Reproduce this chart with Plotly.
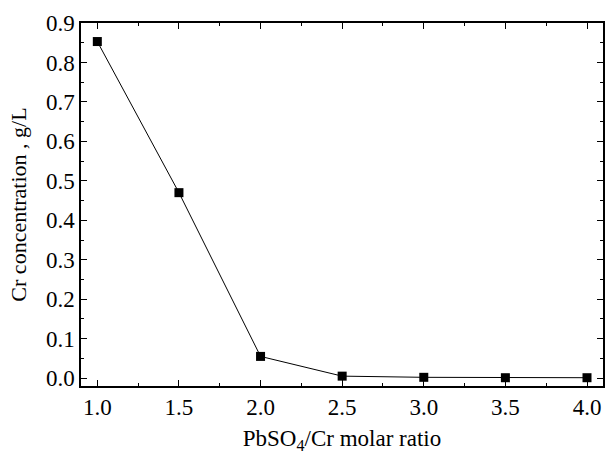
import plotly.graph_objects as go

ratio = [1.0, 1.5, 2.0, 2.5, 3.0, 3.5, 4.0]
cr_conc = [0.853, 0.470, 0.055, 0.005, 0.002, 0.001, 0.001]

font = "Liberation Serif"
fig = go.Figure(go.Scatter(
    x=ratio, y=cr_conc, mode="lines+markers",
    line=dict(color="black", width=1),
    marker=dict(symbol="square", size=9, color="black"),
    cliponaxis=False,
))

axis_common = dict(
    showline=True, linecolor="black", linewidth=1.5, mirror="ticks",
    ticks="inside", ticklen=6, tickwidth=1, tickcolor="black",
    showgrid=False, zeroline=False,
    tickfont=dict(family=font, size=23, color="black"),
)
fig.update_xaxes(
    range=[0.9, 4.098], tickmode="array",
    tickvals=[1.0, 1.5, 2.0, 2.5, 3.0, 3.5, 4.0],
    ticktext=["1.0", "1.5", "2.0", "2.5", "3.0", "3.5", "4.0"],
    minor=dict(ticks="inside", ticklen=3, dtick=0.25, tickcolor="black"),
    title=dict(text="PbSO<sub>4</sub>/Cr molar ratio", font=dict(family=font, size=23, color="black"), standoff=12),
    **axis_common,
)
fig.update_yaxes(
    range=[-0.02, 0.9], tickmode="array",
    tickvals=[0.0, 0.1, 0.2, 0.3, 0.4, 0.5, 0.6, 0.7, 0.8, 0.9],
    ticktext=["0.0", "0.1", "0.2", "0.3", "0.4", "0.5", "0.6", "0.7", "0.8", "0.9"],
    minor=dict(ticks="inside", ticklen=3, dtick=0.05, tickcolor="black"),
    title=dict(text="Cr concentration , g/L", font=dict(family=font, size=22, color="black"), standoff=13),
    **axis_common,
)
fig.update_layout(
    width=607, height=454, showlegend=False,
    margin=dict(l=81, r=2, t=23, b=68),
    plot_bgcolor="white", paper_bgcolor="white",
)
fig.write_html("out.html")
